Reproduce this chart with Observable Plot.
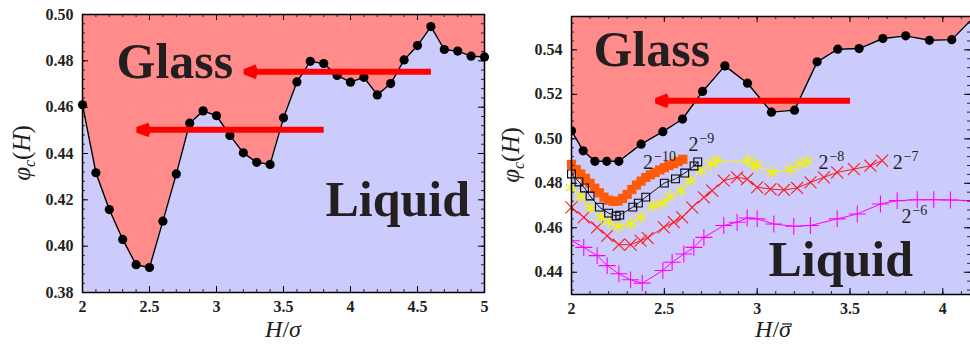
<!DOCTYPE html>
<html><head><meta charset="utf-8">
<script src="https://cdn.jsdelivr.net/npm/d3@7"></script>
<script src="https://cdn.jsdelivr.net/npm/@observablehq/plot@0.6"></script>
<style>
body{margin:0;background:#fff;overflow:hidden}
#row{display:flex;width:970px;height:349px;overflow:hidden}
svg{display:block;flex:none}
</style></head><body><div id="row"></div><script>
// ---------- Left panel data ----------
const leftH = [2.0,2.1,2.2,2.3,2.4,2.5,2.6,2.7,2.8,2.9,3.0,3.1,3.2,3.3,3.4,3.5,3.6,3.7,3.8,3.9,4.0,4.1,4.2,4.3,4.4,4.5,4.6,4.7,4.8,4.9,5.0];
const leftPhi = [0.461,0.4317,0.4158,0.4029,0.392,0.3908,0.4108,0.4312,0.4531,0.4584,0.4563,0.4478,0.4403,0.4362,0.4353,0.4554,0.4709,0.4798,0.4788,0.4737,0.4708,0.4729,0.4653,0.4702,0.4804,0.4866,0.4948,0.4849,0.4842,0.482,0.4817];
const leftArrowTailH = [4.6, 3.8];
const leftArrowHeadH = [3.21, 2.41];
const leftArrowPhi = [0.4753, 0.4502];
const leftXTicks = [2, 2.5, 3, 3.5, 4, 4.5, 5];
const leftYTicks = [0.38, 0.40, 0.42, 0.44, 0.46, 0.48, 0.50];

// ---------- Right panel data ----------
const rightH = [2.0,2.063,2.126,2.19,2.255,2.375,2.492,2.598,2.706,2.826,2.948,3.077,3.201,3.323,3.434,3.549,3.677,3.80,3.928,4.048,4.17];
const rightPhi = [0.5036,0.4946,0.4899,0.4899,0.4899,0.4976,0.5032,0.5089,0.5213,0.5328,0.525,0.512,0.5129,0.5346,0.5403,0.5406,0.5451,0.5463,0.5443,0.5446,0.555];

// 2^-10 (orange filled squares)
const s10H = [2.0,2.025,2.05,2.075,2.1,2.125,2.15,2.175,2.2,2.225,2.25,2.275,2.3,2.325,2.35,2.375,2.4,2.425,2.45,2.475,2.5,2.525,2.55,2.575,2.6];
const s10Phi = [0.4885,0.4862,0.4842,0.4822,0.48,0.4778,0.4757,0.4738,0.4724,0.4719,0.472,0.4732,0.475,0.4772,0.4792,0.481,0.4826,0.4838,0.4849,0.486,0.487,0.488,0.4889,0.4898,0.4908];
// 2^-9 (open black squares)
const s9H = [2.0,2.04,2.07,2.1,2.15,2.2,2.24,2.26,2.33,2.36,2.4,2.5,2.56,2.61,2.66,2.68];
const s9Phi = [0.4842,0.4806,0.4779,0.4743,0.4693,0.4666,0.4653,0.4657,0.4693,0.4711,0.4738,0.4801,0.482,0.4846,0.4878,0.4896];
// 2^-8 (yellow asterisks)
const s8H = [2.0,2.05,2.1,2.16,2.2,2.25,2.32,2.37,2.44,2.49,2.53,2.59,2.64,2.7,2.75,2.78,2.95,2.98,3.0,3.08,3.18,3.23,3.27];
const s8Phi = [0.478,0.474,0.469,0.4647,0.4625,0.4605,0.462,0.4647,0.47,0.471,0.474,0.4767,0.4812,0.4857,0.4887,0.4902,0.4902,0.4885,0.4879,0.4849,0.4864,0.4887,0.4899];
// 2^-7 (red crosses)
const s7H = [2.0,2.066,2.138,2.192,2.255,2.318,2.372,2.41,2.497,2.551,2.596,2.65,2.713,2.758,2.82,2.892,2.946,3.0,3.072,3.144,3.215,3.287,3.359,3.431,3.521,3.61,3.673];
const s7Phi = [0.4692,0.4647,0.4602,0.4564,0.4524,0.4524,0.4542,0.4555,0.4602,0.4625,0.4647,0.4692,0.4737,0.4767,0.4812,0.4827,0.4819,0.4782,0.4774,0.477,0.4779,0.4804,0.4827,0.4849,0.4864,0.4879,0.4902];
// 2^-6 (magenta plus)
const s6H = [2.0,2.066,2.138,2.192,2.255,2.318,2.381,2.492,2.542,2.605,2.659,2.713,2.82,2.892,2.946,3.0,3.09,3.197,3.287,3.431,3.539,3.664,3.754,3.862,3.951,4.041,4.149];
const s6Phi = [0.4542,0.4512,0.4475,0.443,0.4393,0.4366,0.4351,0.4408,0.4445,0.4482,0.4512,0.4557,0.461,0.4625,0.4644,0.464,0.4617,0.4607,0.461,0.464,0.4662,0.4707,0.4722,0.4726,0.4726,0.4725,0.4722];

const seriesBase = ["2","2","2","2","2"];
const seriesExp = ["\u221210","\u22129","\u22128","\u22127","\u22126"];
const seriesLabelH = [2.385, 2.63, 3.33, 3.73, 3.777];
const seriesLabelPhi = [0.4866, 0.4947, 0.4866, 0.4866, 0.4623];

const rightArrowTailH = [3.5];
const rightArrowHeadH = [2.456];
const rightArrowPhi = [0.5171];
const rightXTicks = [2, 2.5, 3, 3.5, 4];
const rightYTicks = [0.44, 0.46, 0.48, 0.50, 0.52, 0.54];

// region labels
const regionText = ["Glass", "Liquid"];
const leftRegionH = [2.254, 3.813];
const leftRegionPhi = [0.4728, 0.4132];
const rightRegionH = [2.118, 3.061];
const rightRegionPhi = [0.5328, 0.4381];

const GLASS = "#ff8b8b", LIQUID = "#cbcbfc", INK = "#231f20";
const FONT = "'Liberation Serif', 'Times New Roman', serif";

const zip = (xs, ys) => xs.map((x, i) => ({x, y: ys[i]}));

function frameTicks(xMajor, xMinor, yMajor, yMinor, innerW, innerH, sides) {
  const m = [];
  const add = (vals, len, sw) => {
    if (sides.bottom) m.push(Plot.ruleX(vals, {x: d => d, insetTop: innerH - len, stroke: "black", strokeWidth: sw}));
    if (sides.top) m.push(Plot.ruleX(vals, {x: d => d, insetBottom: innerH - len, stroke: "black", strokeWidth: sw}));
  };
  const addY = (vals, len, sw) => {
    if (sides.left) m.push(Plot.ruleY(vals, {y: d => d, insetRight: innerW - len, stroke: "black", strokeWidth: sw}));
    if (sides.right) m.push(Plot.ruleY(vals, {y: d => d, insetLeft: innerW - len, stroke: "black", strokeWidth: sw}));
  };
  add(xMajor, 6, 1); add(xMinor, 3, 0.8);
  addY(yMajor, 6, 1); addY(yMinor, 3, 0.8);
  return m;
}

function axisLabels(svg, yx, yy, xx, xy, bar) {
  const s = d3.select(svg);
  const yl = s.append("text").attr("transform", `translate(${yx},${yy}) rotate(-90)`)
    .attr("text-anchor", "middle").attr("fill", INK)
    .style("font-family", FONT).style("font-size", "25px").style("font-style", "italic");
  yl.append("tspan").text("\u03c6");
  yl.append("tspan").attr("dy", 5).style("font-size", "16px").text("c");
  yl.append("tspan").attr("dy", -5).style("font-style", "normal").text("(");
  yl.append("tspan").text("H");
  yl.append("tspan").style("font-style", "normal").text(")");
  const xl = s.append("text").attr("x", xx).attr("y", xy)
    .attr("text-anchor", "middle").attr("fill", INK)
    .style("font-family", FONT).style("font-size", "24px").style("font-style", "italic");
  xl.append("tspan").text("H");
  xl.append("tspan").style("font-style", "normal").text("/");
  xl.append("tspan").text("\u03c3");
  if (bar) {
    // overbar above sigma, measured from the rendered glyph
    const node = xl.node();
    const n = node.getNumberOfChars();
    const a = node.getStartPositionOfChar(n - 1), b = node.getEndPositionOfChar(n - 1);
    s.append("line").attr("x1", a.x + 3).attr("x2", b.x + 1).attr("y1", xy - 13).attr("y2", xy - 13)
      .attr("stroke", INK).attr("stroke-width", 1.3);
  }
}

// ---------- Left panel ----------
{
  const W = 490, H = 349, mL = 82, mR = 6, mT = 14, mB = 57;
  const xD = [2, 5], yD = [0.38, 0.50];
  const curve = zip(leftH, leftPhi);
  const arrows = leftArrowTailH.map((t, i) => ({x1: t, x2: leftArrowHeadH[i], y: leftArrowPhi[i]}));
  const regions = regionText.map((t, i) => ({t, x: leftRegionH[i], y: leftRegionPhi[i]}));
  const svg = Plot.plot({
    width: W, height: H, marginLeft: mL, marginRight: mR, marginTop: mT, marginBottom: mB,
    x: {domain: xD}, y: {domain: yD},
    style: {fontFamily: FONT, background: "transparent", color: INK},
    marks: [
      Plot.areaY(curve, {x: "x", y1: "y", y2: () => yD[1], fill: GLASS, curve: "linear"}),
      Plot.areaY(curve, {x: "x", y1: () => yD[0], y2: "y", fill: LIQUID, curve: "linear"}),
      Plot.line(curve, {x: "x", y: "y", stroke: "black", strokeWidth: 1.4}),
      Plot.dot(curve, {x: "x", y: "y", r: 4.6, fill: "black"}),
      Plot.arrow(arrows, {x1: "x1", y1: "y", x2: "x2", y2: "y", stroke: "#ff0000", strokeWidth: 6, headLength: 3.2, headAngle: 40, strokeLinejoin: "miter", strokeLinecap: "butt", insetStart: 0, insetEnd: 0}),
      Plot.text(regions, {x: "x", y: "y", text: "t", textAnchor: "start", lineAnchor: "bottom", fontSize: 50, fontWeight: "bold", fill: INK}),
      Plot.frame({stroke: "black", strokeWidth: 1.5}),
      ...frameTicks(leftXTicks, d3.range(2, 5.001, 0.1), leftYTicks, d3.range(0.38, 0.5001, 0.004), W - mL - mR, H - mT - mB, {bottom: true, top: true, left: true, right: true}),
      Plot.axisX(leftXTicks, {tickSize: 0, tickPadding: 8, fontSize: 16, fontWeight: "bold", label: null, tickFormat: d => String(d)}),
      Plot.axisY(leftYTicks, {tickSize: 0, tickPadding: 9, fontSize: 16, fontWeight: "bold", label: null, tickFormat: d3.format(".2f")})
    ]
  });
  document.getElementById("row").appendChild(svg);
  axisLabels(svg, 30, (mT + H - mB) / 2, mL + (W - mL - mR) / 2, 337, false);
}

// ---------- Right panel ----------
{
  const W = 480, H = 349, mL = 81, mR = 0, mT = 16, mB = 55;
  const xD = [2, 4.149], yD = [0.430, 0.555];
  const curve = zip(rightH, rightPhi);
  const arrows = rightArrowTailH.map((t, i) => ({x1: t, x2: rightArrowHeadH[i], y: rightArrowPhi[i]}));
  const regions = regionText.map((t, i) => ({t, x: rightRegionH[i], y: rightRegionPhi[i]}));
  const s10 = zip(s10H, s10Phi), s9 = zip(s9H, s9Phi), s8 = zip(s8H, s8Phi), s7 = zip(s7H, s7Phi), s6 = zip(s6H, s6Phi);
  const labels = seriesBase.map((b, i) => ({b, e: seriesExp[i], x: seriesLabelH[i], y: seriesLabelPhi[i]}));
  const svg = Plot.plot({
    width: W, height: H, marginLeft: mL, marginRight: mR, marginTop: mT, marginBottom: mB,
    x: {domain: xD}, y: {domain: yD},
    style: {fontFamily: FONT, background: "transparent", color: INK},
    marks: [
      Plot.areaY(curve, {x: "x", y1: "y", y2: () => yD[1], fill: GLASS, clip: true}),
      Plot.areaY(curve, {x: "x", y1: () => yD[0], y2: "y", fill: LIQUID, clip: true}),
      Plot.line(curve, {x: "x", y: "y", stroke: "black", strokeWidth: 1.4, clip: true}),
      Plot.dot(curve, {x: "x", y: "y", r: 4.6, fill: "black", clip: true}),
      // series
      Plot.line(s6, {x: "x", y: "y", stroke: "#ff00ff", strokeWidth: 1}),
      Plot.dot(s6, {x: "x", y: "y", symbol: "plus", r: 5.5, stroke: "#ff00ff", strokeWidth: 1.1, clip: true}),
      Plot.line(s7, {x: "x", y: "y", stroke: "#ff1a1a", strokeWidth: 1}),
      Plot.dot(s7, {x: "x", y: "y", symbol: "times", r: 5.5, stroke: "#ff1a1a", strokeWidth: 1.1}),
      Plot.line(s8, {x: "x", y: "y", stroke: "#f4f400", strokeWidth: 1}),
      Plot.dot(s8, {x: "x", y: "y", symbol: "asterisk", r: 6, stroke: "#f4f400", strokeWidth: 1.5}),
      Plot.line(s10, {x: "x", y: "y", stroke: "#ff5a0a", strokeWidth: 1}),
      Plot.dot(s10, {x: "x", y: "y", symbol: "square", r: 5.2, fill: "#ff5a0a"}),
      Plot.line(s9, {x: "x", y: "y", stroke: "black", strokeWidth: 0.9}),
      Plot.dot(s9, {x: "x", y: "y", symbol: "square", r: 4.4, stroke: "black", strokeWidth: 1.1, fill: "none"}),
      Plot.text(labels, {x: "x", y: "y", text: "b", textAnchor: "start", lineAnchor: "bottom", fontSize: 20, fill: INK}),
      Plot.text(labels, {x: "x", y: "y", text: "e", textAnchor: "start", lineAnchor: "bottom", fontSize: 14, dx: 11, dy: -8, fill: INK}),
      Plot.arrow(arrows, {x1: "x1", y1: "y", x2: "x2", y2: "y", stroke: "#ff0000", strokeWidth: 6, headLength: 3.2, headAngle: 40, strokeLinejoin: "miter", strokeLinecap: "butt", insetStart: 0, insetEnd: 0}),
      Plot.text(regions, {x: "x", y: "y", text: "t", textAnchor: "start", lineAnchor: "bottom", fontSize: 50, fontWeight: "bold", fill: INK}),
      Plot.ruleX([xD[0]], {stroke: "black", strokeWidth: 1.5}),
      Plot.ruleY([yD[0], yD[1]], {stroke: "black", strokeWidth: 1.5}),
      ...frameTicks(rightXTicks, d3.range(2, 4.1501, 0.1), rightYTicks, d3.range(0.432, 0.5541, 0.004), W - mL - mR, H - mT - mB, {bottom: true, top: true, left: true, right: true}),
      Plot.axisX(rightXTicks, {tickSize: 0, tickPadding: 8, fontSize: 16, fontWeight: "bold", label: null, tickFormat: d => String(d)}),
      Plot.axisY(rightYTicks, {tickSize: 0, tickPadding: 9, fontSize: 16, fontWeight: "bold", label: null, tickFormat: d3.format(".2f")})
    ]
  });
  document.getElementById("row").appendChild(svg);
  axisLabels(svg, 29, (mT + H - mB) / 2, 283, 337, true);
}
</script></body></html>
